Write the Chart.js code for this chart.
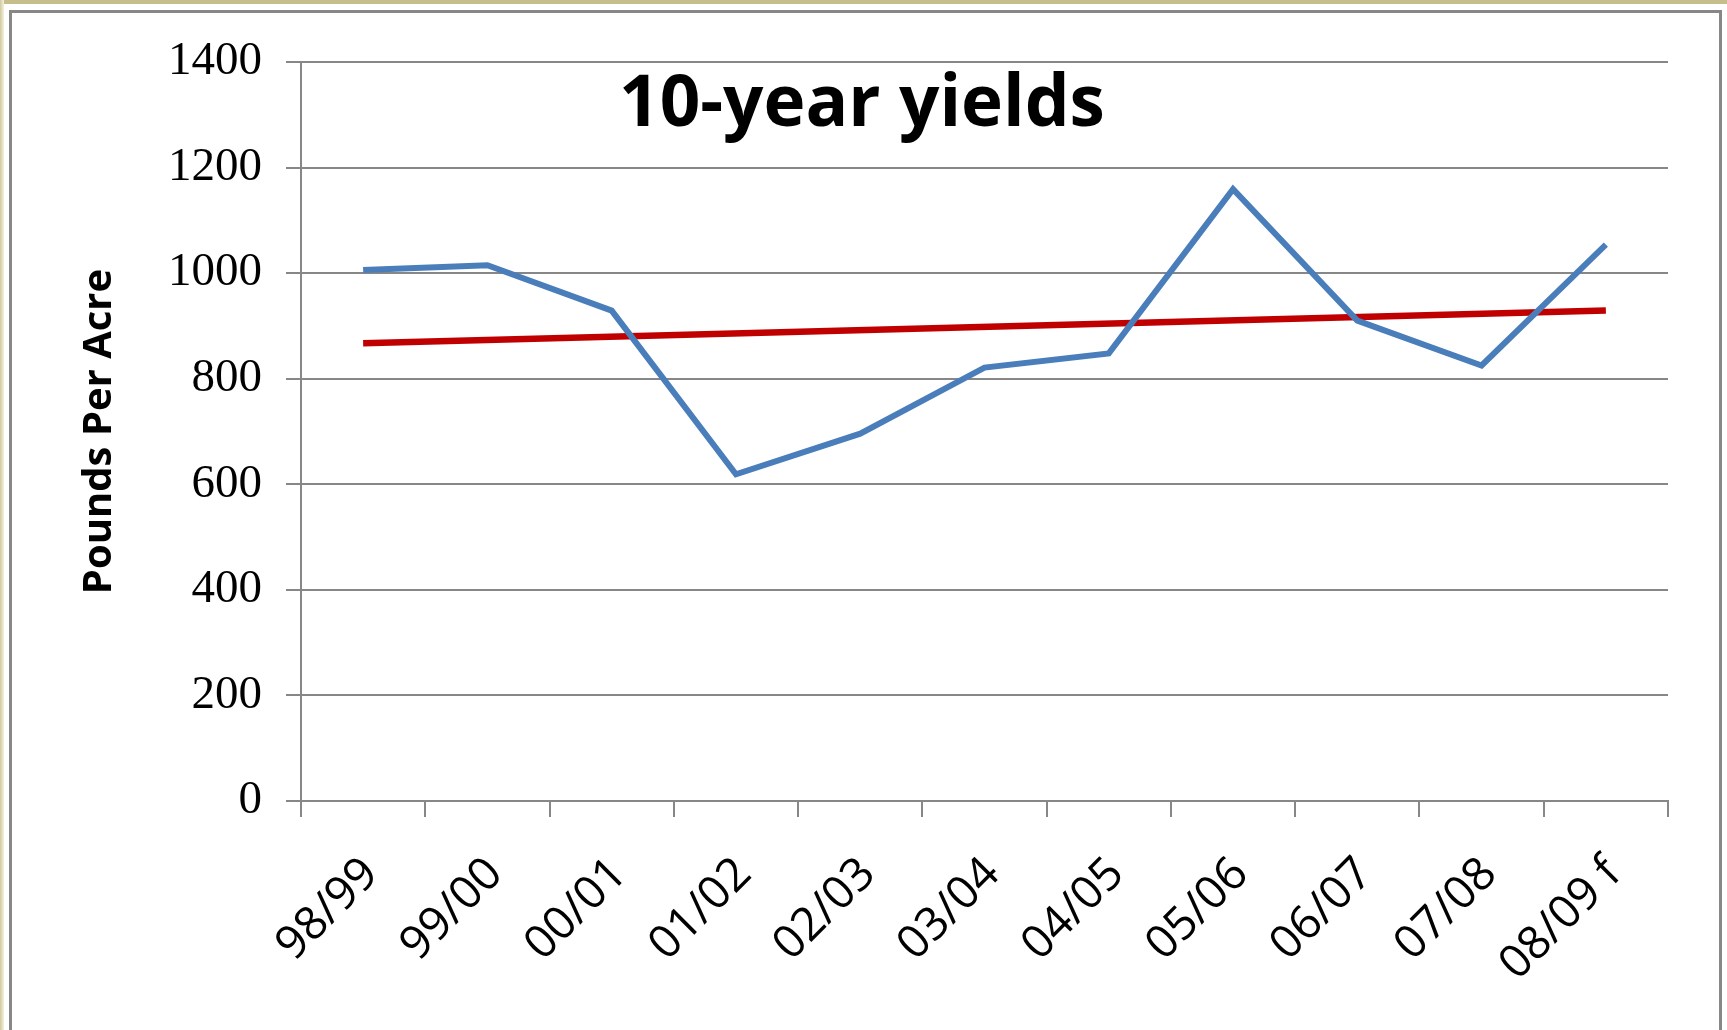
<!DOCTYPE html>
<html>
<head>
<meta charset="utf-8">
<title>10-year yields</title>
<script src="https://cdn.jsdelivr.net/npm/chart.js@4.4.1/dist/chart.umd.min.js"></script>
<style>
    html, body {
        margin: 0;
        padding: 0;
        width: 1727px;
        height: 1030px;
        overflow: hidden;
        background: #fff;
    }
    #top-strip {
        position: absolute;
        left: 0;
        top: 0;
        width: 1727px;
        height: 4px;
        background: #c6be8a;
    }
    #left-strip {
        position: absolute;
        left: 0;
        top: 0;
        width: 4px;
        height: 1030px;
        background: linear-gradient(to right, #d2ca9a, #f3f0e2);
    }
    #frame {
        position: absolute;
        left: 9px;
        top: 10px;
        width: 1707px;
        height: 1060px;
        border: 3px solid #878787;
    }
    #chart-wrap {
        position: absolute;
        left: 0;
        top: 0;
        width: 1727px;
        height: 1030px;
    }
    #chart-title {
        position: absolute;
        left: 862px;
        top: 63px;
        transform: translateX(-50%);
        font-family: "Open Sans", sans-serif;
        font-weight: bold;
        font-size: 71px;
        line-height: 1;
        color: #000;
        white-space: nowrap;
    }
</style>
</head>
<body>
<div id="top-strip"></div>
<div id="left-strip"></div>
<div id="frame"></div>
<div id="chart-wrap"><canvas id="yieldChart"></canvas></div>
<div id="chart-title">10-year yields</div>

<script>
// crop years (f = forecast)
const seasons = ['98/99', '99/00', '00/01', '01/02', '02/03', '03/04', '04/05', '05/06', '06/07', '07/08', '08/09 f'];
// pounds per acre
const yields = [1006, 1015, 929, 619, 696, 821, 848, 1159, 910, 825, 1054];
// linear trend, only the two ends are drawn
const trend = [867, null, null, null, null, null, null, null, null, null, 929];
const yTicks = [0, 200, 400, 600, 800, 1000, 1200, 1400];

const gridGray = '#878787';

window.initYieldChart = function (canvasId) {
    const el = document.getElementById(canvasId);
    if (!el) return;
    if (typeof Chart === 'undefined') {
        console.error('Chart.js not loaded');
        return;
    }
    const ctx = el.getContext('2d');
    new Chart(ctx, {
        type: 'line',
        data: {
            labels: seasons,
            datasets: [{
                data: yields,
                borderColor: '#4a7ebb',
                borderWidth: 6,
                pointRadius: 0,
                tension: 0,
                order: 1
            }, {
                data: trend,
                borderColor: '#c00000',
                borderWidth: 6.5,
                pointRadius: 0,
                spanGaps: true,
                tension: 0,
                order: 2
            }]
        },
        options: {
            responsive: true,
            maintainAspectRatio: false,
            animation: false,
            layout: {
                padding: { left: 0, right: 59, top: 62, bottom: 0 }
            },
            plugins: {
                legend: { display: false },
                tooltip: { enabled: false }
            },
            scales: {
                x: {
                    offset: true,
                    grid: {
                        offset: true,
                        drawOnChartArea: false,
                        color: gridGray,
                        lineWidth: 2,
                        tickLength: 16
                    },
                    border: { color: gridGray, width: 2 },
                    ticks: {
                        minRotation: 45,
                        maxRotation: 45,
                        padding: 30,
                        labelOffset: 8,
                        color: '#000',
                        font: { family: 'Open Sans', size: 46 }
                    },
                    afterFit: (scale) => { scale.height = 229; }
                },
                y: {
                    min: 0,
                    max: 1400,
                    afterBuildTicks: (scale) => {
                        scale.ticks = yTicks.map(v => ({ value: v }));
                    },
                    grid: {
                        color: gridGray,
                        lineWidth: 2,
                        tickLength: 15
                    },
                    border: { color: gridGray, width: 2 },
                    ticks: {
                        padding: 24,
                        color: '#000',
                        font: { family: 'Liberation Serif', size: 47 },
                        callback: (value) => String(value)
                    },
                    title: {
                        display: true,
                        text: 'Pounds Per Acre',
                        color: '#000',
                        font: { family: 'Open Sans', size: 40, weight: 'bold' },
                        padding: { top: 76, bottom: 0 }
                    },
                    afterFit: (scale) => { scale.width = 301; }
                }
            }
        }
    });
};

window.initYieldChart('yieldChart');
</script>
</body>
</html>
